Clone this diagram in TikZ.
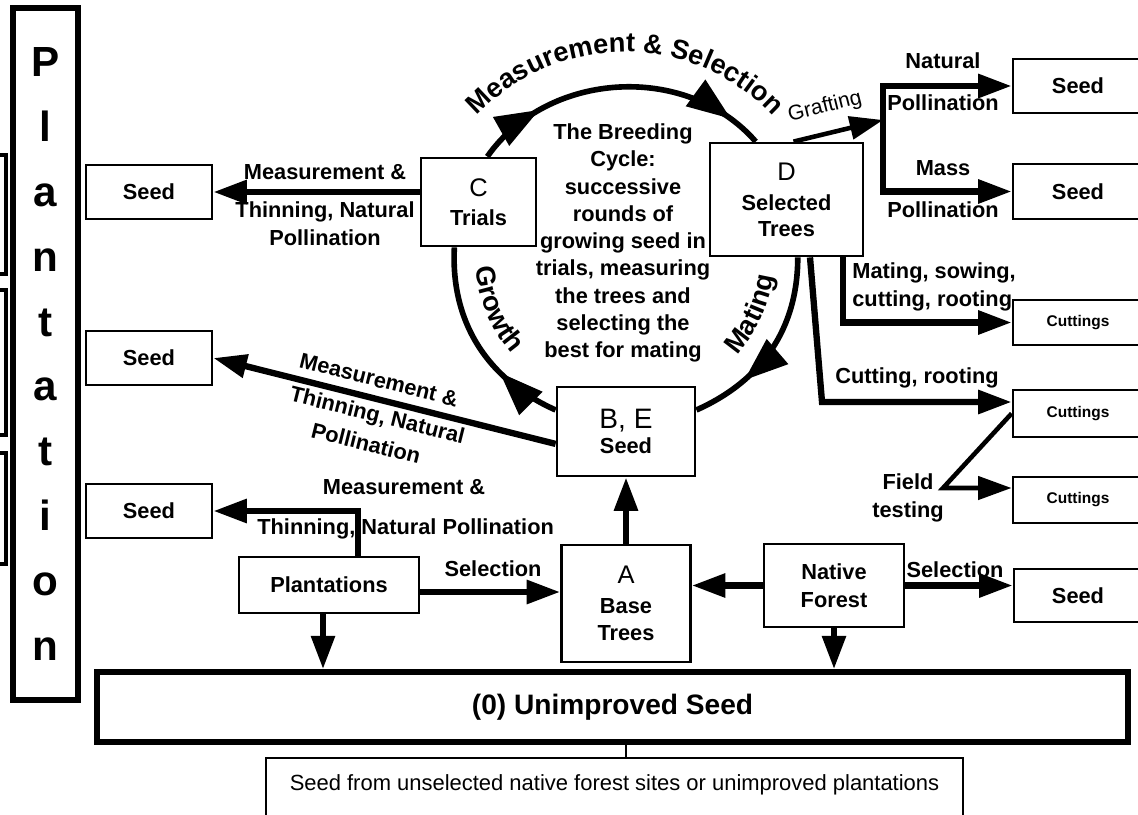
\documentclass[tikz,border=0pt]{standalone}
\usepackage{fontspec}
\setmainfont{Liberation Sans}
\usetikzlibrary{arrows.meta,calc,decorations.text,decorations.markings}
\newcommand\lblfont{\fontsize{12.4}{15.5}\selectfont\bfseries}
\newcommand\boxfont{\fontsize{12.4}{14.5}\selectfont\bfseries}
\newcommand\keyfont{\fontsize{14.5}{14.5}\selectfont\mdseries}
\newcommand\befont{\fontsize{16}{16}\selectfont\mdseries}
\newcommand\cutfont{\fontsize{8.8}{10}\selectfont\bfseries}
\newcommand\arcfont{\fontsize{15.5}{18}\selectfont\bfseries}
\tikzset{
    box/.style ={
        rectangle,              % 矩形节点
        draw,                   % 黑色边框
        line width = 1.6pt,     % 边框粗细
        inner sep  = 0pt,       % 文字和边框的距离
        align      = center,    % 多行文字居中
        font       = \boxfont   % 粗体文字
    },
    heavybox/.style ={
        box,
        line width = 3.2pt      % 粗边框
    },
    lbl/.style ={
        inner sep = 0pt,        % 标签紧贴文字
        align     = center,
        font      = \lblfont
    },
    conn/.style ={
        line width = 3.6pt,     % 粗连线
        -{Triangle[length=19pt,width=13pt]}
    },
    thinconn/.style ={
        line width = 2.6pt,
        -{Triangle[length=19pt,width=13pt]}
    },
    cyclearc/.style ={
        line width = 3.2pt      % 循环圆弧
    },
    arcmark/.style ={
        postaction = {decorate, decoration={markings,
            mark=at position #1 with {\arrow{Triangle[length=25pt,width=18pt]}}}}
    }
}

\begin{document}
\begin{tikzpicture}[x=0.02cm, y=0.02cm]
    \useasboundingbox (0,0) rectangle (1138,-814);
    \clip (0,0) rectangle (1138,-814);

    \node[heavybox, minimum width=1.3cm, minimum height=13.84cm, font=\fontsize{24}{36.9}\selectfont\bfseries] (plantation) at (45.5,-354) {P\\l\\a\\n\\t\\a\\t\\i\\o\\n};
    \draw[line width=2pt] (-20,-155) rectangle (6,-274);
    \draw[line width=2pt] (-20,-290) rectangle (6,-435);
    \draw[line width=2pt] (-20,-453) rectangle (6,-564);

    \node[box, minimum width=2.52cm, minimum height=1.08cm] (seed1) at (149,-192) {Seed};
    \node[box, minimum width=2.52cm, minimum height=1.08cm] (seed2) at (149,-358) {Seed};
    \node[box, minimum width=2.52cm, minimum height=1.08cm] (seed3) at (149,-511) {Seed};
    \node[box, minimum width=2.3cm, minimum height=1.76cm] (C) at (478.5,-202) {{\keyfont C}\\[2pt]Trials};
    \node[box, minimum width=3.06cm, minimum height=2.26cm] (D) at (786.5,-199.5) {{\keyfont D}\\[3pt]Selected\\Trees};
    \node[box, minimum width=2.76cm, minimum height=1.78cm] (BE) at (626,-431.5) {{\befont B, E}\\Seed};
    \node[box, minimum width=2.58cm, minimum height=2.34cm] (A) at (626,-603.5) {{\keyfont A}\\[2.5pt]Base\\[1pt]Trees};
    \node[box, minimum width=3.6cm, minimum height=1.12cm] (plant) at (329,-585) {Plantations};
    \node[box, minimum width=2.8cm, minimum height=1.66cm] (native) at (834,-585.5) {Native\\[1.4pt]Forest};
    \node[box, minimum width=2.56cm, minimum height=1.06cm] (seedR) at (1078,-595.5) {Seed};
    \node[box, minimum width=2.6cm, minimum height=1.08cm] (seedN) at (1078,-86) {Seed};
    \node[box, minimum width=2.6cm, minimum height=1.1cm] (seedM) at (1078,-191.5) {Seed};
    \node[box, minimum width=2.6cm, minimum height=0.9cm, font=\cutfont] (cut1) at (1078,-322.5) {Cuttings};
    \node[box, minimum width=2.6cm, minimum height=0.94cm, font=\cutfont] (cut2) at (1078,-413.5) {Cuttings};
    \node[box, minimum width=2.6cm, minimum height=0.92cm, font=\cutfont] (cut3) at (1078,-500) {Cuttings};
    \node[heavybox, minimum width=20.62cm, minimum height=1.4cm, font=\fontsize{16}{18}\selectfont\bfseries] (unimp) at (612.5,-707) {(0) Unimproved Seed};
    \node[box, line width=1.1pt, anchor=north, minimum width=13.94cm, text height=0.66cm, text depth=1.2cm, inner ysep=0pt, font=\fontsize{12.5}{14}\selectfont\mdseries] (lower) at (614.5,-757) {Seed from unselected native forest sites or unimproved plantations};

    \node[lbl] (cycle) at (623,-243) {The Breeding\\Cycle:\\successive\\rounds of\\growing seed in\\trials, measuring\\the trees and\\selecting the\\best for mating};
    \node[lbl] (cmeas) at (325,-172) {Measurement \&};
    \node[lbl] (cthin) at (325,-212) {Thinning, Natural};
    \node[lbl] (cpoll) at (325,-238) {Pollination};
    \node[lbl, rotate=-14] (bmeas) at (379,-380) {Measurement \&};
    \node[lbl, rotate=-14] (bthin) at (377,-417) {Thinning, Natural};
    \node[lbl, rotate=-14] (bpoll) at (366,-443) {Pollination};
    \node[lbl] (pmeas) at (404,-487) {Measurement \&};
    \node[lbl, anchor=west] (pthin) at (257,-529) {Thinning, Natural Pollination};
    \node[lbl] (selA) at (493,-569) {Selection};
    \node[lbl] (selR) at (955,-570) {Selection};
    \node[lbl, font=\fontsize{12}{14}\selectfont, rotate=14] (graft) at (825,-107) {Grafting};
    \node[lbl] (natp1) at (943,-61) {Natural};
    \node[lbl] (natp2) at (943,-103) {Pollination};
    \node[lbl] (masp1) at (943,-168) {Mass};
    \node[lbl] (masp2) at (943,-210) {Pollination};
    \node[lbl, anchor=west, align=left] (msow) at (852,-287) {Mating, sowing,\\cutting, rooting};
    \node[lbl] (croot) at (917,-378) {Cutting, rooting};
    \node[lbl] (ftest) at (908,-498) {Field\\testing};

    \coordinate (hub) at (625,-255);
    \draw[cyclearc, arcmark=0.23, arcmark=0.89] (C.79) to[out=55, in=131] (D.118);
    \draw[cyclearc, arcmark=0.33] (BE.163) to[out=156, in=267] (C.242);
    \draw[cyclearc, arcmark=0.71] (D.281) to[out=-90, in=24] (BE.17);
    \path[decorate, decoration={text along path, text align=center, text={|\arcfont|Measurement {\&} Selection}}] ($(hub)+(138:203)$) arc[start angle=138, end angle=42, radius=203];
    \path[decorate, decoration={text along path, text align=center, text={|\arcfont|Growth}}] ($(hub)+(180:150)$) arc[start angle=180, end angle=226, radius=150];
    \path[decorate, decoration={text along path, text align=center, text={|\arcfont|Mating}}] ($(hub)+(-47:150)$) arc[start angle=-47, end angle=-3, radius=150];

    \draw[conn] (C.west |- seed1.east) -- (seed1.east);
    \draw[conn] (BE.190) -- (seed2.east);
    \coordinate (pup) at ($(plant.north)+(29,0)$);
    \draw[conn] (pup) |- (seed3.east);
    \draw[conn] ($(plant.east)+(0,-7)$) -- ($(A.west)+(0,11.5)$);
    \draw[conn] (native.west) -- (native.west -| A.east);
    \draw[conn] (native.east) -- (native.east -| seedR.west);
    \draw[conn] (A.north) -- (A.north |- BE.south);
    \coordinate (pdown) at ($(plant.south)+(-6,0)$);
    \draw[conn] (pdown) -- (pdown |- unimp.north);
    \draw[conn] (native.south) -- (native.south |- unimp.north);
    \draw[line width=1.1pt] (unimp.south -| A.south) -- (lower.north -| A.south);

    \coordinate (brk) at (883,-120);
    \draw[thinconn] ($(D.north)+(7,0)$) -- (brk);
    \draw[conn] (brk) |- (seedN.west);
    \draw[conn] (brk) |- (seedM.west);
    \draw[conn] ($(D.south)+(56.5,0)$) |- (cut1.west);
    \coordinate (rootbend) at (822,-402);
    \draw[conn] ($(D.south)+(23.5,0)$) -- (rootbend) -- (rootbend -| cut2.west);
    \coordinate (fieldpt) at (943,-488);
    \draw[thinconn] (cut2.west) -- (fieldpt) -- (fieldpt -| cut3.west);
\end{tikzpicture}
\end{document}
